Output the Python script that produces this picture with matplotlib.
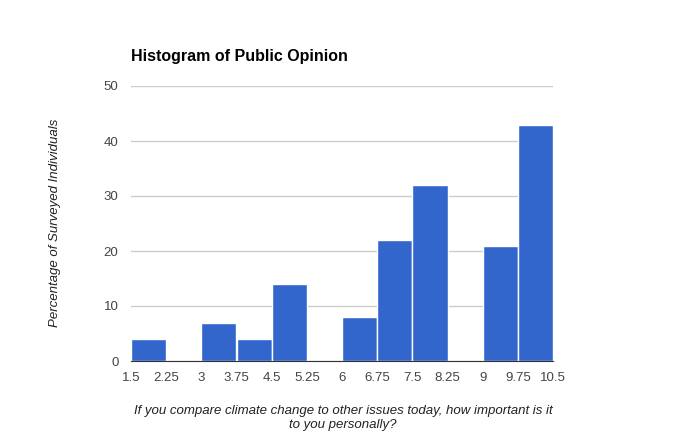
"""Histogram of public opinion on climate change importance."""

import matplotlib.pyplot as plt

plt.rcParams["font.family"] = ["Liberation Sans", "DejaVu Sans"]

BIN_EDGES = [1.5, 2.25, 3, 3.75, 4.5, 5.25, 6, 6.75, 7.5, 8.25, 9, 9.75, 10.5]
COUNTS = [4, 0, 7, 4, 14, 0, 8, 22, 32, 0, 21, 43]
TICK_LABELS = ["1.5", "2.25", "3", "3.75", "4.5", "5.25", "6", "6.75", "7.5", "8.25", "9", "9.75", "10.5"]
Y_TICKS = [0, 10, 20, 30, 40, 50]

BAR_COLOR = "#3366cc"
TEXT_COLOR = "#444444"


def main():
    fig = plt.figure(figsize=(6.85, 4.47), dpi=100)
    ax = fig.add_axes([131 / 685, 1 - 361 / 447, 422 / 685, 275 / 447])

    lefts = BIN_EDGES[:-1]
    widths = [b - a for a, b in zip(BIN_EDGES[:-1], BIN_EDGES[1:])]
    ax.bar(lefts, COUNTS, widths, align="edge", color=BAR_COLOR,
           edgecolor="white", linewidth=1.0, zorder=2)

    ax.set_xlim(BIN_EDGES[0], BIN_EDGES[-1])
    ax.set_ylim(0, 50)
    ax.set_xticks(BIN_EDGES)
    ax.set_xticklabels(TICK_LABELS)
    ax.set_yticks(Y_TICKS)
    ax.tick_params(length=0, labelsize=9.5, colors=TEXT_COLOR, pad=8)
    ax.tick_params(axis="y", pad=9)
    ax.grid(axis="y", color="#cccccc", linewidth=1, zorder=0)
    for s in ["top", "right", "left"]:
        ax.spines[s].set_visible(False)
    ax.spines["bottom"].set_color("#333333")
    ax.spines["bottom"].set_zorder(3)

    fig.text(131 / 685, 1 - 57 / 447, "Histogram of Public Opinion",
             fontsize=11.5, fontweight="bold", color="black", va="center", ha="left")
    fig.text(55 / 685, 1 - 223 / 447, "Percentage of Surveyed Individuals",
             fontsize=9.5, style="italic", color="#222222", rotation=90,
             va="center", ha="center")
    fig.text(343 / 685, 1 - 418 / 447,
             "If you compare climate change to other issues today, how important is it\nto you personally?",
             fontsize=9.5, style="italic", color="#222222", va="center", ha="center",
             linespacing=1.2)

    fig.savefig("out.png", dpi=100)
    plt.close(fig)


if __name__ == "__main__":
    main()
